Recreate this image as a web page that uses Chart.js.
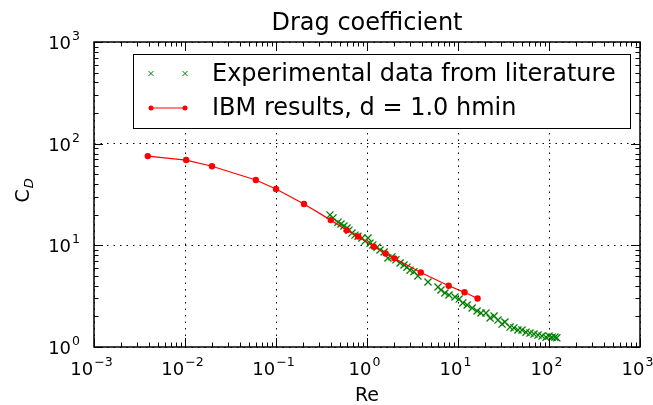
<!DOCTYPE html>
<html><head><meta charset="utf-8">
<script src="https://cdn.jsdelivr.net/npm/chart.js@4.4.0/dist/chart.umd.min.js"></script>
<style>html,body{margin:0;padding:0;background:#fff;}#wrap{width:653px;height:405px;}</style>
</head><body><div id="wrap"><canvas id="c" width="653" height="405"></canvas></div>
<script>
// ---- data ----
const titleText = 'Drag coefficient';
const xLabel = 'Re';
const legendLabels = ['Experimental data from literature', 'IBM results, d = 1.0 hmin'];
const xTickExps = [-3, -2, -1, 0, 1, 2, 3];
const yTickExps = [0, 1, 2, 3];
const expRe = [0.392,0.423,0.48,0.518,0.558,0.603,0.634,0.684,0.738,0.796,0.881,0.951,1.026,1.08,1.16,1.29,1.39,1.54,1.70,1.88,2.08,2.31,2.55,2.75,2.97,3.28,3.63,4.68,6.03,6.50,7.19,7.96,9.27,10.3,11.3,12.6,14.3,16.2,17.9,20.3,22.5,24.9,27.5,30.5,32.8,37.3,41.2,45.6,50.5,55.9,61.8,68.4,75.7,83.8,92.7,100,108,116,122];
const expCd = [19.9,18.6,16.9,16.2,15.5,14.8,14.1,13.2,12.6,12.3,11.8,11.0,11.8,10.5,10.1,9.6,9.0,8.6,7.5,7.7,7.2,6.7,6.4,6.1,5.7,5.5,5.0,4.36,3.89,3.64,3.40,3.25,3.10,2.96,2.71,2.59,2.42,2.26,2.16,2.16,1.93,2.02,1.84,1.68,1.76,1.57,1.54,1.47,1.47,1.40,1.37,1.34,1.31,1.28,1.25,1.28,1.25,1.25,1.23];
const ibmRe = [0.0039,0.0103,0.0198,0.06,0.1,0.203,0.4,0.6,0.8,1.19,1.6,2.0,3.9,7.9,11.8,16.4];
const ibmCd = [75.5,69,60,43.9,35.8,25.5,17.7,14.1,12.2,9.7,8.3,7.45,5.4,4.0,3.45,3.0];

const GREEN = '#008000', RED = '#ff0000';
const FONT = '"DejaVu Sans", sans-serif';

function decadeTicks(exps){ return exps.map(k => ({value: Math.pow(10, k)})); }

const decorPlugin = {
  id: 'decor',
  afterDatasetsDraw(chart) {
    const ctx = chart.ctx, a = chart.chartArea;
    const xs = chart.scales.x, ys = chart.scales.y;
    ctx.save();
    // ticks (inside, all four sides)
    ctx.strokeStyle = '#000'; ctx.lineWidth = 1;
    const maj = 9, mnr = 4.5;
    ctx.beginPath();
    for (let k = xTickExps[0]; k <= xTickExps[xTickExps.length-1]; k++) {
      for (let m = 1; m <= 9; m++) {
        if (k === xTickExps[xTickExps.length-1] && m > 1) break;
        const px = Math.round(xs.getPixelForValue(m * Math.pow(10, k))) + 0.5;
        const L = m === 1 ? maj : mnr;
        ctx.moveTo(px, a.bottom); ctx.lineTo(px, a.bottom - L);
        ctx.moveTo(px, a.top); ctx.lineTo(px, a.top + L);
      }
    }
    for (let k = yTickExps[0]; k <= yTickExps[yTickExps.length-1]; k++) {
      for (let m = 1; m <= 9; m++) {
        if (k === yTickExps[yTickExps.length-1] && m > 1) break;
        const py = Math.round(ys.getPixelForValue(m * Math.pow(10, k))) + 0.5;
        const L = m === 1 ? maj : mnr;
        ctx.moveTo(a.left, py); ctx.lineTo(a.left + L, py);
        ctx.moveTo(a.right, py); ctx.lineTo(a.right - L, py);
      }
    }
    ctx.stroke();
    // frame
    ctx.lineWidth = 1.5;
    ctx.strokeRect(a.left, a.top, a.right - a.left, a.bottom - a.top);

    // tick labels
    ctx.fillStyle = '#000';
    const big = '18px ' + FONT, small = '12.5px ' + FONT;
    function sup(k){ return k < 0 ? '\u2212' + (-k) : String(k); }
    ctx.textBaseline = 'alphabetic'; ctx.textAlign = 'left';
    xTickExps.forEach(k => {
      const px = xs.getPixelForValue(Math.pow(10, k));
      ctx.font = big; const w1 = ctx.measureText('10').width;
      ctx.font = small; const w2 = ctx.measureText(sup(k)).width;
      const x0 = px - (w1 + w2) / 2 - 3;
      ctx.font = big; ctx.fillText('10', x0, 375);
      ctx.font = small; ctx.fillText(sup(k), x0 + w1 + 1, 366);
    });
    yTickExps.forEach(k => {
      const py = ys.getPixelForValue(Math.pow(10, k));
      ctx.font = small; const w2 = ctx.measureText(sup(k)).width;
      ctx.font = big; const w1 = ctx.measureText('10').width;
      const xr = 80;
      ctx.font = big; ctx.fillText('10', xr - w2 - 1 - w1, py + 7);
      ctx.font = small; ctx.fillText(sup(k), xr - w2, py - 2);
    });
    // title & x label
    ctx.textAlign = 'center';
    ctx.font = '24px ' + FONT;
    ctx.fillText(titleText, (a.left + a.right) / 2, 30);
    ctx.font = '19px ' + FONT;
    ctx.fillText(xLabel, (a.left + a.right) / 2, 401);
    // y label C_D rotated
    ctx.save();
    ctx.translate(29, (a.top + a.bottom) / 2 + 8);
    ctx.rotate(-Math.PI / 2);
    ctx.textAlign = 'left';
    ctx.font = '19px ' + FONT;
    const wc = ctx.measureText('C').width;
    ctx.fillText('C', 0, 0);
    ctx.font = 'italic 13px ' + FONT;
    ctx.fillText('D', wc + 1, 4);
    ctx.restore();

    // legend
    const lx = 133, ly = 54, lw = 497, lh = 74;
    ctx.fillStyle = '#fff';
    ctx.fillRect(lx, ly, lw, lh);
    ctx.strokeStyle = '#000'; ctx.lineWidth = 1;
    ctx.strokeRect(lx + 0.5, ly + 0.5, lw, lh);
    const rows = [73.5, 108];
    ctx.strokeStyle = GREEN; ctx.lineWidth = 1;
    [151, 185].forEach(cx => {
      ctx.beginPath();
      ctx.moveTo(cx - 2.5, rows[0] - 2.5); ctx.lineTo(cx + 2.5, rows[0] + 2.5);
      ctx.moveTo(cx - 2.5, rows[0] + 2.5); ctx.lineTo(cx + 2.5, rows[0] - 2.5);
      ctx.stroke();
    });
    ctx.strokeStyle = RED; ctx.fillStyle = RED;
    ctx.beginPath(); ctx.moveTo(151, rows[1]); ctx.lineTo(185, rows[1]); ctx.stroke();
    [151, 185].forEach(cx => { ctx.beginPath(); ctx.arc(cx, rows[1], 2.5, 0, Math.PI * 2); ctx.fill(); });
    ctx.fillStyle = '#000';
    ctx.textAlign = 'left'; ctx.textBaseline = 'middle';
    ctx.font = '24px ' + FONT;
    ctx.fillText(legendLabels[0], 212, rows[0] + 1);
    ctx.fillText(legendLabels[1], 212, rows[1] + 1);
    ctx.restore();
  }
};

new Chart(document.getElementById('c'), {
  type: 'scatter',
  data: {
    datasets: [
      {
        label: legendLabels[0],
        data: expRe.map((r, i) => ({x: r, y: expCd[i]})),
        showLine: false,
        pointStyle: 'crossRot',
        pointRadius: 5,
        pointBorderWidth: 1.3,
        borderColor: GREEN,
        backgroundColor: GREEN,
        order: 2
      },
      {
        label: legendLabels[1],
        data: ibmRe.map((r, i) => ({x: r, y: ibmCd[i]})),
        showLine: true,
        borderColor: RED,
        borderWidth: 1.2,
        backgroundColor: RED,
        pointRadius: 3.2,
        pointBorderWidth: 0,
        pointBackgroundColor: RED,
        order: 1
      }
    ]
  },
  options: {
    responsive: false,
    animation: false,
    devicePixelRatio: 1,
    layout: { padding: { left: 94, right: 13, top: 42, bottom: 58 } },
    plugins: { legend: { display: false }, title: { display: false }, tooltip: { enabled: false } },
    scales: {
      x: {
        type: 'logarithmic', min: 1e-3, max: 1e3,
        afterBuildTicks: s => { s.ticks = decadeTicks(xTickExps); },
        ticks: { display: false },
        grid: { color: '#000', lineWidth: 1, drawTicks: false },
        border: { display: false, dash: [1.5, 5] }
      },
      y: {
        type: 'logarithmic', min: 1, max: 1e3,
        afterBuildTicks: s => { s.ticks = decadeTicks(yTickExps); },
        ticks: { display: false },
        grid: { color: '#000', lineWidth: 1, drawTicks: false },
        border: { display: false, dash: [1.5, 5] }
      }
    }
  },
  plugins: [decorPlugin]
});
</script>
</body></html>
